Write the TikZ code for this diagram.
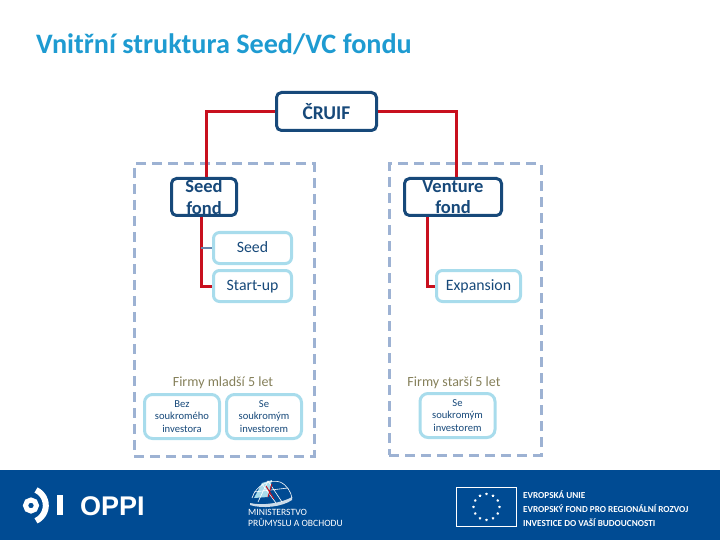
\documentclass[tikz,border=0pt]{standalone}
\usepackage{fontspec}
\setmainfont{Carlito}
\newfontfamily\logofont{Liberation Sans}
\usetikzlibrary{shapes.geometric,positioning,calc}
\definecolor{darkblue}{HTML}{17497A}
\definecolor{titleblue}{HTML}{1E9BD1}
\definecolor{lightblue}{HTML}{A8DCEC}
\definecolor{dashblue}{HTML}{9DB2D3}
\definecolor{linkred}{HTML}{C8101E}
\definecolor{olive}{HTML}{85805A}
\definecolor{bandblue}{HTML}{004B93}
\tikzset{
fondbox/.style = {draw=darkblue, fill=white, line width=3pt, rounded corners=5pt, text=darkblue, align=center, inner sep=0pt, font=\fontsize{18.5}{21.5}\selectfont},
subbox/.style = {draw=lightblue, fill=white, line width=3pt, rounded corners=6pt, text=darkblue, inner sep=0pt, text height=11pt, text depth=3pt, minimum width=78pt, minimum height=31pt, font=\fontsize{15.8}{18}\selectfont},
smallbox/.style = {draw=lightblue, fill=white, line width=3pt, rounded corners=8pt, text=darkblue, align=center, inner sep=0pt, minimum width=75pt, minimum height=44pt, font=\fontsize{10.6}{12.5}\selectfont},
region/.style = {draw=dashblue, line width=3pt, dash pattern=on 10pt off 6pt, inner sep=0pt},
link/.style = {draw=linkred, line width=3pt},
bandtext/.style = {text=white, anchor=west, inner sep=0pt},
grouptitle/.style = {text=olive, inner sep=0pt, font=\fontsize{14}{16}\selectfont}
}
\begin{document}
\begin{tikzpicture}[x=1pt,y=-1pt]
    \useasboundingbox (0,0) rectangle (720,540);
    \node [text=titleblue, anchor=west, inner sep=0pt, font=\fontsize{28.2}{30}\selectfont\bfseries] (title) at (36,44) {Vnitřní struktura Seed/VC fondu};
    \node [region, minimum width=180pt, minimum height=292pt] (regionL) at (224,310) {};
    \node [region, minimum width=152pt, minimum height=291pt] (regionR) at (465,309.5) {};
    \node [fondbox, minimum width=100pt, minimum height=38pt, font=\fontsize{19.5}{21}\selectfont] (cruif) at (326.5,111.5) {\bfseries ČRUIF};
    \node [fondbox, minimum width=65pt, minimum height=37pt] (seedfond) at (204,197) {\bfseries Seed\\\bfseries fond};
    \node [fondbox, minimum width=97pt, minimum height=37pt] (venture) at (453,197) {\bfseries Venture\\\bfseries fond};
    \node [subbox] (seed) at (252.5,248) {Seed};
    \node [subbox, below=4pt of seed] (startup) {Start-up};
    \node [subbox, minimum width=84pt] (expansion) at (478.5,286) {Expansion};
    \node [grouptitle] (younger) at (223,382.5) {Firmy mladší 5 let};
    \node [grouptitle] (older) at (454,382.5) {Firmy starší 5 let};
    \node [smallbox] (bez) at (182,416.5) {Bez\\soukromého\\investora};
    \node [smallbox] (se1) at (264,416.5) {Se\\soukromým\\investorem};
    \node [smallbox] (se2) at (457.5,415.5) {Se\\soukromým\\investorem};
    \draw [link] (cruif.west) -| ([xshift=2pt]seedfond.north);
    \draw [link] (cruif.east) -| ([xshift=3pt]venture.north);
    \draw [link] ([xshift=-3pt]seedfond.south) |- (startup.west);
    \draw [link] ([xshift=-26pt]venture.south) |- (expansion.west);
    \draw [dashblue!60!darkblue, line width=1.2pt] (seed.west) -- ++(-11,0);
    % band
    \fill [bandblue] (0,470) rectangle (720,540);
    \draw [white, line width=5pt] (31,505.5) circle (5.5pt);
    \draw [white, line width=6pt] (36,490) arc (65:-65:17pt);
    \fill [white] (57,495) rectangle (63,515);
    \node [bandtext, font=\fontsize{27}{30}\logofont\bfseries] (oppi) at (80,506) {OPPI};
    \fill [white!80!bandblue] (250,503) .. controls (262,506) and (282,503) .. (292,497) -- (292,500) .. controls (282,507) and (262,509) .. (250,505) -- cycle;
    \fill [lightblue] (254,498) -- (262,483) -- (272,480) -- (268,497) -- cycle;
    \draw [white, line width=0.6pt] (252,498) .. controls (256,485) and (270,479) .. (280,482) .. controls (287,485) and (291,492) .. (292,498);
    \draw [white, line width=0.6pt] (258,502) -- (268,481) -- (282,502) (254,492) -- (288,488) (262,484) -- (276,503);
    \draw [linkred, line width=0.9pt] (266,486) -- (274,499) (272,484) -- (268,497);
    \node [bandtext, font=\fontsize{9.6}{10}\selectfont] (ministry1) at (248,512) {MINISTERSTVO};
    \node [bandtext, font=\fontsize{9.6}{10}\selectfont] (ministry2) at (248,522) {PRŮMYSLU A OBCHODU};
    \node [draw=white, line width=0.8pt, minimum width=60pt, minimum height=39pt, inner sep=0pt] (euflag) at (486.5,507) {};
    \foreach \i in {0,30,...,330}
        \node [star, star points=5, fill=white, inner sep=0pt, minimum size=3pt] (eustar\i) at ($(euflag.center)+(\i:13pt)$) {};
    \node [bandtext, font=\fontsize{9.2}{11}\selectfont\bfseries] (eu1) at (523,495) {EVROPSKÁ UNIE};
    \node [bandtext, font=\fontsize{9.2}{11}\selectfont\bfseries] (eu2) at (523,509) {EVROPSKÝ FOND PRO REGIONÁLNÍ ROZVOJ};
    \node [bandtext, font=\fontsize{9.2}{11}\selectfont\bfseries] (eu3) at (523,523) {INVESTICE DO VAŠÍ BUDOUCNOSTI};
\end{tikzpicture}
\end{document}
